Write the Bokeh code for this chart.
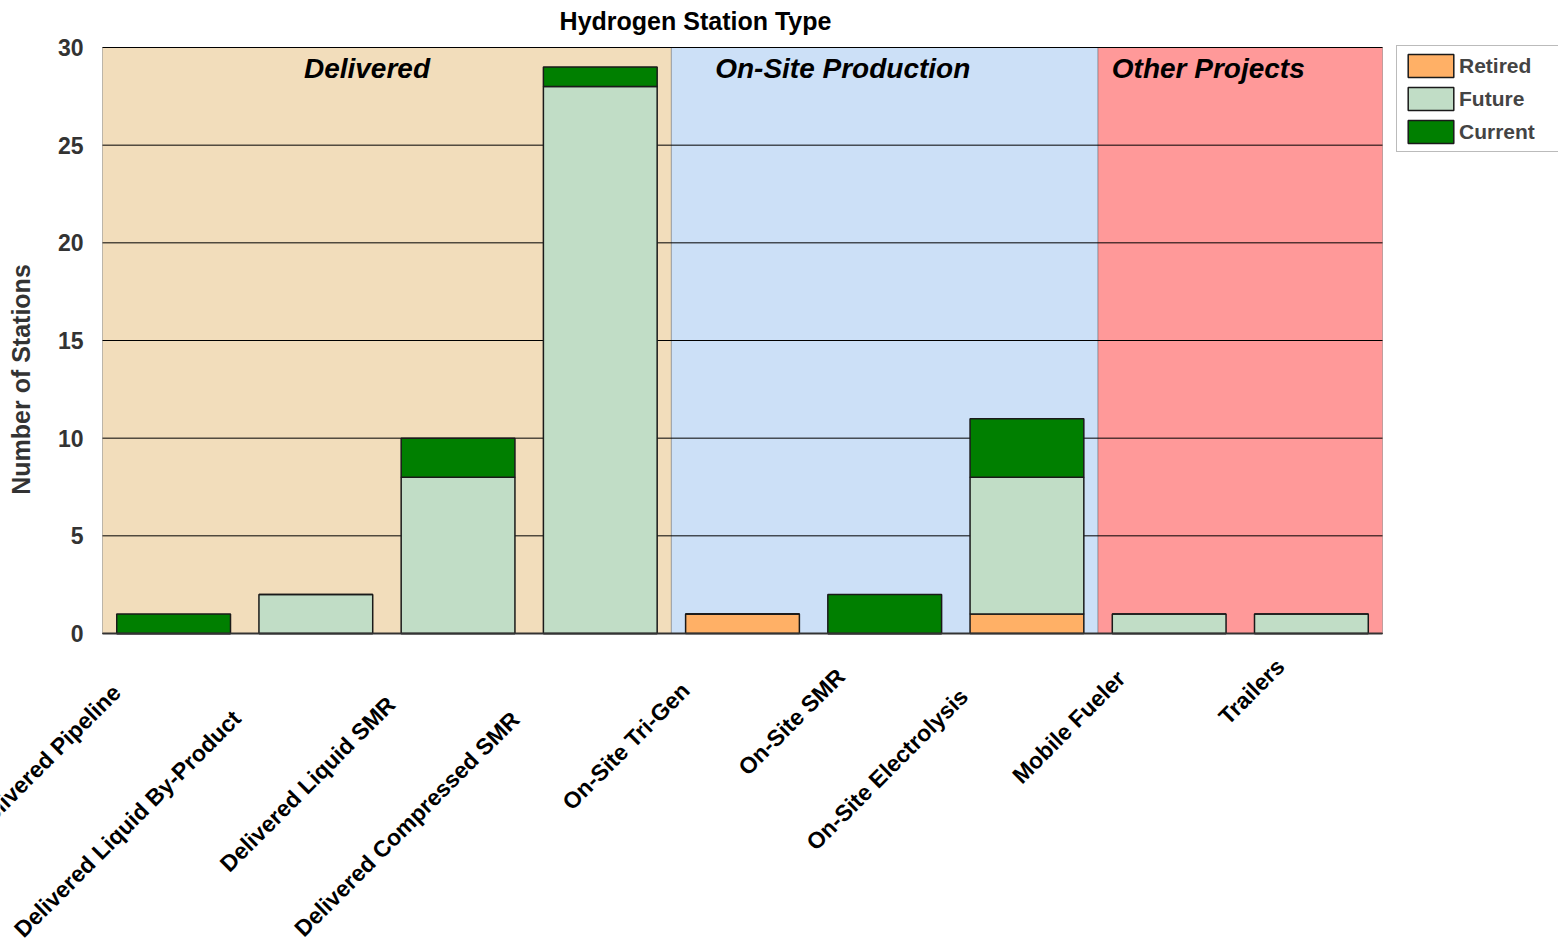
import math
from bokeh.plotting import figure
from bokeh.models import (BoxAnnotation, Label, Legend, LegendItem, FixedTicker,
                          ColumnDataSource, Range1d)
from bokeh.embed import file_html
from bokeh.resources import INLINE

# ---- data ----
categories = ["Delivered Pipeline", "Delivered Liquid By-Product", "Delivered Liquid SMR",
              "Delivered Compressed SMR", "On-Site Tri-Gen", "On-Site SMR",
              "On-Site Electrolysis", "Mobile Fueler", "Trailers"]
retired = [0, 0, 0, 0, 1, 0, 1, 0, 0]
future = [0, 2, 8, 28, 0, 0, 7, 1, 1]
current = [1, 0, 2, 1, 0, 2, 3, 0, 0]
series = ["Retired", "Future", "Current"]
groups = ["Delivered", "On-Site Production", "Other Projects"]
group_sizes = [4, 3, 2]
y_ticks = [0, 5, 10, 15, 20, 25, 30]
title_text = "Hydrogen Station Type"
y_title = "Number of Stations"
y_max = 30

# ---- layout / styles ----
FONT = "Liberation Sans"
W, H = 1558, 939
PLOT_L, PLOT_T, PLOT_W, PLOT_B = 102, 47, 1280, 633   # where the bar area sits on the page
LEGEND_L, LEGEND_B = 1396, 152
series_colors = ["#FFB066", "#C1DDC6", "#007F00"]
region_colors = ["#F2DDBB", "#CCE0F7", "#FF9999"]
group_label_dx = [-20, -42, -32]
label_dx = [-57, -79, -67, -85, -57, -44, -63, -48, -31]
label_dy = [55, 81, 67, 82, 53, 39, 59, 41, 29]
title_dx, title_dy = -47, 20

n = len(categories)
px_per_cat = PLOT_W / n
px_per_unit = (PLOT_B - PLOT_T) / y_max
x_range = Range1d(-PLOT_L / px_per_cat, (W - PLOT_L) / px_per_cat)
y_range = Range1d(-(H - PLOT_B) / px_per_unit, y_max + PLOT_T / px_per_unit)

p = figure(x_range=x_range, y_range=y_range, width=W, height=H,
           output_backend="svg", toolbar_location=None,
           min_border_left=0, min_border_right=0, min_border_top=0, min_border_bottom=0)
p.outline_line_color = None
p.background_fill_color = "white"
p.border_fill_color = "white"
p.grid.visible = False
p.xaxis.visible = False

# title
p.add_layout(Label(x=n / 2, y=y_range.end, text=title_text, x_offset=title_dx,
                   y_offset=-title_dy, text_align="center", text_baseline="middle",
                   text_font=FONT, text_font_size="25px", text_font_style="bold",
                   text_color="black"))

# regions
start = 0
for name, size, col, dx in zip(groups, group_sizes, region_colors, group_label_dx):
    p.add_layout(BoxAnnotation(left=start, right=start + size, bottom=0, top=y_max,
                               fill_color=col, fill_alpha=1, line_color="#333333",
                               line_width=1, level="image"))
    p.add_layout(Label(x=start + size / 2, y=y_max, text=name, x_offset=dx, y_offset=-21,
                       text_align="center", text_baseline="middle", text_font=FONT,
                       text_font_style="bold italic", text_font_size="28px",
                       text_color="black"))
    start += size

# horizontal grid lines over the bar area only
p.segment(x0=[0] * len(y_ticks), x1=[n] * len(y_ticks), y0=y_ticks, y1=y_ticks,
          line_color="black", line_width=1)

# bars
x_pos = [i + 0.5 for i in range(n)]
src = ColumnDataSource(dict(x=x_pos, Retired=retired, Future=future, Current=current))
rs = p.vbar_stack(series, x="x", width=0.8, source=src, fill_color=series_colors,
                  line_color="#1a1a1a", line_width=1.5)

# x axis line
p.segment(x0=[0], x1=[n], y0=[0], y1=[0], line_color="#333333", line_width=2)

# rotated category labels
for xc, cat, dx, dy in zip(x_pos, categories, label_dx, label_dy):
    p.add_layout(Label(x=xc, y=0, text=cat, x_offset=dx, y_offset=-dy,
                       angle=math.pi / 4, text_align="right", text_baseline="middle",
                       text_font=FONT, text_font_style="bold", text_font_size="23px",
                       text_color="black"))

# y axis drawn at the left edge of the bar area
yaxis = p.yaxis[0]
yaxis.fixed_location = 0
yaxis.bounds = (-4, y_max)
yaxis.ticker = FixedTicker(ticks=y_ticks)
yaxis.axis_label = y_title
yaxis.axis_label_text_font = FONT
yaxis.axis_label_text_font_size = "25px"
yaxis.axis_label_text_font_style = "bold"
yaxis.axis_label_text_color = "#333333"
yaxis.axis_label_standoff = 20
yaxis.major_label_text_font = FONT
yaxis.major_label_text_font_size = "23px"
yaxis.major_label_text_font_style = "bold"
yaxis.major_label_text_color = "#333333"
yaxis.major_label_standoff = 19
yaxis.major_tick_out = 0
yaxis.major_tick_in = 0
yaxis.major_tick_line_color = None
yaxis.minor_tick_line_color = None
yaxis.axis_line_color = None

# legend (screen position: left edge and bottom edge measured from the canvas)
legend = Legend(items=[LegendItem(label=s, renderers=[r]) for s, r in zip(series, rs)],
                location=(LEGEND_L, H - LEGEND_B), orientation="vertical",
                border_line_color="#777777",
                padding=5, spacing=4, glyph_width=57, glyph_height=29, label_height=29,
                label_width=94, label_standoff=0, margin=0, label_text_font=FONT,
                label_text_font_style="bold", label_text_font_size="21px",
                background_fill_color="white", background_fill_alpha=1)
p.add_layout(legend)

open("out.html", "w").write(file_html(p, INLINE))
